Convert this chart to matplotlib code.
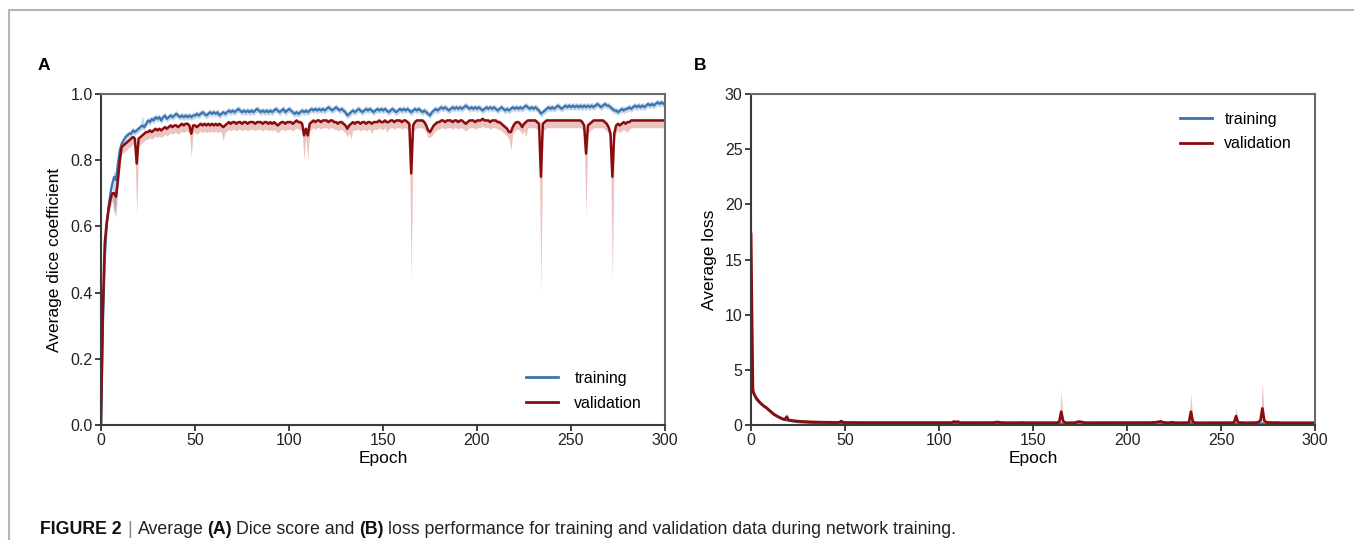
import numpy as np
import matplotlib
matplotlib.use("Agg")
import matplotlib.pyplot as plt
from matplotlib.lines import Line2D

plt.rcParams['font.family'] = ['Liberation Sans', 'DejaVu Sans']

# ---- data, one value per epoch 0..300 ----
epochs = np.arange(301)

dice_train = [
0.00, 0.30, 0.50, 0.60, 0.66, 0.70, 0.73, 0.75, 0.74, 0.79,
0.83, 0.85, 0.86, 0.87, 0.875, 0.88, 0.88, 0.89, 0.885, 0.89,
0.895, 0.90, 0.905, 0.90, 0.91, 0.92, 0.915, 0.925, 0.92, 0.93,
0.925, 0.93, 0.92, 0.93, 0.935, 0.925, 0.93, 0.935, 0.93, 0.935,
0.94, 0.935, 0.93, 0.935, 0.93, 0.935, 0.93, 0.935, 0.93, 0.935,
0.935, 0.94, 0.935, 0.94, 0.945, 0.94, 0.935, 0.94, 0.945, 0.94,
0.945, 0.94, 0.945, 0.935, 0.94, 0.945, 0.94, 0.945, 0.95, 0.945,
0.95, 0.945, 0.95, 0.955, 0.95, 0.945, 0.95, 0.945, 0.95, 0.945,
0.95, 0.945, 0.95, 0.955, 0.95, 0.945, 0.95, 0.945, 0.95, 0.945,
0.95, 0.945, 0.95, 0.955, 0.95, 0.945, 0.95, 0.955, 0.945, 0.95,
0.955, 0.95, 0.945, 0.94, 0.945, 0.94, 0.945, 0.95, 0.945, 0.95,
0.945, 0.95, 0.955, 0.95, 0.955, 0.95, 0.955, 0.95, 0.955, 0.95,
0.955, 0.96, 0.955, 0.95, 0.955, 0.96, 0.955, 0.95, 0.955, 0.95,
0.945, 0.935, 0.94, 0.945, 0.95, 0.945, 0.95, 0.955, 0.95, 0.945,
0.95, 0.955, 0.95, 0.955, 0.95, 0.945, 0.95, 0.955, 0.95, 0.955,
0.95, 0.955, 0.95, 0.945, 0.95, 0.955, 0.95, 0.945, 0.95, 0.955,
0.95, 0.955, 0.95, 0.955, 0.95, 0.945, 0.95, 0.955, 0.95, 0.955,
0.95, 0.945, 0.95, 0.945, 0.94, 0.935, 0.945, 0.95, 0.955, 0.95,
0.955, 0.96, 0.955, 0.96, 0.955, 0.95, 0.955, 0.96, 0.955, 0.96,
0.955, 0.96, 0.955, 0.96, 0.965, 0.96, 0.955, 0.96, 0.955, 0.96,
0.955, 0.96, 0.955, 0.95, 0.955, 0.96, 0.955, 0.96, 0.955, 0.96,
0.955, 0.95, 0.955, 0.96, 0.955, 0.95, 0.955, 0.95, 0.955, 0.96,
0.955, 0.96, 0.955, 0.96, 0.955, 0.96, 0.965, 0.96, 0.955, 0.96,
0.955, 0.96, 0.955, 0.95, 0.94, 0.945, 0.95, 0.955, 0.96, 0.955,
0.96, 0.955, 0.96, 0.965, 0.96, 0.955, 0.96, 0.965, 0.96, 0.965,
0.96, 0.965, 0.96, 0.965, 0.96, 0.965, 0.96, 0.965, 0.96, 0.965,
0.96, 0.965, 0.96, 0.965, 0.97, 0.965, 0.96, 0.965, 0.97, 0.965,
0.965, 0.96, 0.955, 0.95, 0.95, 0.945, 0.95, 0.955, 0.95, 0.955,
0.955, 0.96, 0.955, 0.96, 0.965, 0.96, 0.965, 0.96, 0.965, 0.96,
0.965, 0.97, 0.965, 0.97, 0.965, 0.97, 0.975, 0.97, 0.975, 0.97,
0.975]

dice_val = [
0.00, 0.35, 0.55, 0.61, 0.65, 0.68, 0.70, 0.70, 0.69, 0.74,
0.80, 0.84, 0.845, 0.85, 0.855, 0.86, 0.865, 0.87, 0.865, 0.79,
0.865, 0.87, 0.875, 0.88, 0.885, 0.885, 0.89, 0.885, 0.89, 0.895,
0.89, 0.895, 0.89, 0.895, 0.90, 0.895, 0.90, 0.905, 0.90, 0.905,
0.905, 0.90, 0.905, 0.91, 0.905, 0.91, 0.91, 0.905, 0.88, 0.905,
0.905, 0.90, 0.905, 0.91, 0.905, 0.91, 0.905, 0.91, 0.905, 0.91,
0.905, 0.91, 0.905, 0.91, 0.905, 0.90, 0.905, 0.91, 0.915, 0.91,
0.915, 0.915, 0.91, 0.915, 0.915, 0.91, 0.915, 0.915, 0.91, 0.915,
0.915, 0.915, 0.91, 0.915, 0.915, 0.915, 0.91, 0.915, 0.915, 0.91,
0.915, 0.91, 0.915, 0.91, 0.905, 0.91, 0.915, 0.915, 0.91, 0.915,
0.915, 0.915, 0.91, 0.915, 0.92, 0.915, 0.915, 0.91, 0.875, 0.895,
0.875, 0.91, 0.915, 0.92, 0.915, 0.92, 0.92, 0.915, 0.92, 0.92,
0.92, 0.915, 0.92, 0.92, 0.915, 0.915, 0.91, 0.915, 0.915, 0.91,
0.905, 0.895, 0.905, 0.91, 0.915, 0.91, 0.915, 0.915, 0.91, 0.915,
0.915, 0.91, 0.915, 0.915, 0.91, 0.915, 0.915, 0.915, 0.92, 0.915,
0.915, 0.92, 0.915, 0.915, 0.92, 0.92, 0.915, 0.92, 0.92, 0.92,
0.915, 0.92, 0.92, 0.915, 0.91, 0.76, 0.905, 0.915, 0.92, 0.92,
0.92, 0.92, 0.915, 0.905, 0.89, 0.885, 0.895, 0.905, 0.91, 0.915,
0.915, 0.92, 0.92, 0.915, 0.92, 0.92, 0.92, 0.915, 0.92, 0.92,
0.915, 0.92, 0.92, 0.915, 0.91, 0.915, 0.92, 0.92, 0.92, 0.915,
0.92, 0.92, 0.92, 0.925, 0.92, 0.92, 0.92, 0.915, 0.92, 0.92,
0.92, 0.915, 0.915, 0.91, 0.905, 0.90, 0.895, 0.885, 0.885, 0.90,
0.91, 0.915, 0.915, 0.91, 0.90, 0.91, 0.915, 0.92, 0.92, 0.92,
0.92, 0.92, 0.915, 0.91, 0.75, 0.91, 0.915, 0.92, 0.92, 0.92,
0.92, 0.92, 0.92, 0.92, 0.92, 0.92, 0.92, 0.92, 0.92, 0.92,
0.92, 0.92, 0.92, 0.92, 0.92, 0.92, 0.915, 0.905, 0.82, 0.905,
0.91, 0.915, 0.92, 0.92, 0.92, 0.92, 0.92, 0.92, 0.915, 0.91,
0.90, 0.88, 0.75, 0.88, 0.905, 0.91, 0.905, 0.91, 0.915, 0.91,
0.915, 0.915, 0.92, 0.92, 0.92, 0.92, 0.92, 0.92, 0.92, 0.92,
0.92, 0.92, 0.92, 0.92, 0.92, 0.92, 0.92, 0.92, 0.92, 0.92,
0.92]

loss_train = [
6.5, 3.0, 2.6, 2.3, 2.1, 1.95, 1.8, 1.65, 1.55, 1.4,
1.25, 1.1, 0.95, 0.85, 0.75, 0.65, 0.57, 0.5, 0.45, 0.42,
0.38, 0.35, 0.32, 0.3, 0.28, 0.26, 0.25, 0.24, 0.22, 0.21,
0.2, 0.19, 0.18, 0.17, 0.17, 0.16, 0.16, 0.15, 0.15, 0.14,
0.14, 0.14, 0.13, 0.13, 0.13, 0.12, 0.12, 0.12, 0.13, 0.11,
0.11, 0.11, 0.11, 0.11, 0.1, 0.1, 0.1, 0.1, 0.1, 0.1,
0.1, 0.1, 0.1, 0.09, 0.09, 0.1, 0.09, 0.09, 0.09, 0.09,
0.09, 0.09, 0.09, 0.09, 0.09, 0.09, 0.09, 0.09, 0.08, 0.09,
0.09, 0.08, 0.09, 0.08, 0.08, 0.09, 0.08, 0.08, 0.08, 0.08,
0.08, 0.08, 0.08, 0.08, 0.08, 0.08, 0.08, 0.08, 0.08, 0.08,
0.08, 0.08, 0.08, 0.08, 0.08, 0.08, 0.08, 0.08, 0.1, 0.09,
0.1, 0.08, 0.08, 0.08, 0.08, 0.08, 0.08, 0.08, 0.08, 0.08,
0.08, 0.08, 0.08, 0.08, 0.08, 0.08, 0.08, 0.08, 0.08, 0.08,
0.08, 0.09, 0.08, 0.08, 0.07, 0.07, 0.07, 0.07, 0.07, 0.07,
0.07, 0.07, 0.07, 0.07, 0.07, 0.07, 0.07, 0.07, 0.07, 0.07,
0.07, 0.07, 0.07, 0.07, 0.07, 0.07, 0.07, 0.07, 0.07, 0.07,
0.07, 0.07, 0.07, 0.07, 0.08, 0.14, 0.09, 0.07, 0.07, 0.07,
0.07, 0.07, 0.07, 0.07, 0.08, 0.08, 0.07, 0.07, 0.07, 0.07,
0.07, 0.07, 0.07, 0.07, 0.07, 0.07, 0.07, 0.07, 0.07, 0.07,
0.07, 0.07, 0.07, 0.07, 0.07, 0.07, 0.07, 0.07, 0.07, 0.07,
0.06, 0.06, 0.06, 0.06, 0.06, 0.06, 0.06, 0.06, 0.06, 0.06,
0.06, 0.06, 0.06, 0.06, 0.06, 0.07, 0.07, 0.08, 0.08, 0.07,
0.06, 0.06, 0.06, 0.06, 0.07, 0.06, 0.06, 0.06, 0.06, 0.06,
0.06, 0.06, 0.06, 0.07, 0.18, 0.08, 0.06, 0.06, 0.06, 0.06,
0.06, 0.06, 0.06, 0.06, 0.06, 0.06, 0.06, 0.06, 0.06, 0.06,
0.06, 0.06, 0.06, 0.06, 0.06, 0.06, 0.06, 0.07, 0.1, 0.07,
0.06, 0.06, 0.06, 0.06, 0.06, 0.06, 0.06, 0.06, 0.06, 0.06,
0.07, 0.08, 0.17, 0.08, 0.07, 0.06, 0.06, 0.06, 0.06, 0.06,
0.06, 0.06, 0.05, 0.05, 0.05, 0.05, 0.05, 0.05, 0.05, 0.05,
0.05, 0.05, 0.05, 0.05, 0.05, 0.05, 0.05, 0.05, 0.05, 0.05,
0.05]

loss_val = [
17.3, 3.1, 2.7, 2.4, 2.2, 2.0, 1.85, 1.7, 1.6, 1.45,
1.3, 1.15, 1.0, 0.9, 0.8, 0.7, 0.62, 0.55, 0.5, 0.75,
0.45, 0.42, 0.4, 0.38, 0.36, 0.34, 0.33, 0.32, 0.31, 0.3,
0.29, 0.28, 0.28, 0.27, 0.27, 0.26, 0.26, 0.25, 0.25, 0.25,
0.24, 0.24, 0.24, 0.23, 0.23, 0.23, 0.23, 0.24, 0.35, 0.24,
0.23, 0.22, 0.23, 0.22, 0.22, 0.23, 0.22, 0.22, 0.22, 0.23,
0.22, 0.22, 0.22, 0.21, 0.22, 0.23, 0.22, 0.21, 0.21, 0.22,
0.21, 0.21, 0.22, 0.21, 0.21, 0.21, 0.22, 0.21, 0.21, 0.21,
0.21, 0.21, 0.22, 0.21, 0.21, 0.21, 0.21, 0.22, 0.21, 0.21,
0.21, 0.21, 0.21, 0.22, 0.22, 0.21, 0.21, 0.21, 0.21, 0.21,
0.21, 0.21, 0.22, 0.21, 0.21, 0.21, 0.21, 0.22, 0.32, 0.26,
0.31, 0.22, 0.21, 0.21, 0.21, 0.21, 0.21, 0.21, 0.21, 0.21,
0.21, 0.21, 0.21, 0.21, 0.21, 0.21, 0.22, 0.21, 0.21, 0.22,
0.24, 0.27, 0.24, 0.22, 0.21, 0.21, 0.21, 0.21, 0.21, 0.21,
0.21, 0.21, 0.21, 0.21, 0.23, 0.21, 0.21, 0.21, 0.21, 0.21,
0.21, 0.2, 0.21, 0.21, 0.2, 0.2, 0.21, 0.2, 0.2, 0.2,
0.21, 0.2, 0.2, 0.21, 0.3, 1.2, 0.35, 0.22, 0.2, 0.2,
0.2, 0.2, 0.21, 0.24, 0.3, 0.3, 0.26, 0.23, 0.21, 0.21,
0.21, 0.2, 0.2, 0.21, 0.2, 0.2, 0.2, 0.21, 0.2, 0.2,
0.21, 0.2, 0.2, 0.21, 0.22, 0.21, 0.2, 0.2, 0.2, 0.21,
0.2, 0.2, 0.2, 0.2, 0.2, 0.2, 0.2, 0.21, 0.2, 0.2,
0.2, 0.21, 0.21, 0.22, 0.23, 0.24, 0.26, 0.3, 0.32, 0.25,
0.22, 0.21, 0.21, 0.22, 0.25, 0.22, 0.21, 0.2, 0.2, 0.2,
0.2, 0.2, 0.21, 0.25, 1.2, 0.3, 0.22, 0.2, 0.2, 0.2,
0.2, 0.2, 0.2, 0.21, 0.2, 0.2, 0.2, 0.2, 0.2, 0.2,
0.2, 0.2, 0.2, 0.2, 0.2, 0.2, 0.21, 0.25, 0.8, 0.25,
0.22, 0.21, 0.2, 0.2, 0.2, 0.2, 0.2, 0.2, 0.21, 0.22,
0.26, 0.4, 1.5, 0.4, 0.25, 0.22, 0.23, 0.22, 0.21, 0.22,
0.21, 0.21, 0.2, 0.2, 0.2, 0.2, 0.2, 0.2, 0.2, 0.2,
0.2, 0.2, 0.2, 0.2, 0.2, 0.2, 0.2, 0.2, 0.2, 0.2,
0.2]

# spread of the shaded bands (usual width, plus the epochs where it reaches further)
dice_train_spread = 0.01
dice_train_band_low = {7: 0.64, 8: 0.63, 9: 0.72}
dice_train_band_high = {7: 0.77, 22: 0.935}
dice_val_below = 0.022
dice_val_above = 0.006
dice_val_band_low = {7: 0.64, 19: 0.63, 48: 0.81, 65: 0.86, 108: 0.80, 110: 0.80,
                     131: 0.87, 133: 0.865, 144: 0.88, 152: 0.885, 165: 0.44,
                     175: 0.87, 218: 0.83, 226: 0.87, 234: 0.40, 258: 0.63,
                     272: 0.43, 280: 0.885}
loss_val_above = 0.08
loss_val_below = 0.05
loss_val_band_high = {0: 26.0, 1: 4.0, 19: 1.1, 48: 0.45, 165: 3.2, 234: 2.9,
                      258: 1.6, 272: 3.9}
loss_train_spread = 0.03

assert len(dice_train) == len(dice_val) == len(loss_train) == len(loss_val) == 301

blue = '#3a74b0'
red = '#8a0c0c'


def band(mean, below, above, low_pts=None, high_pts=None):
    mean = np.asarray(mean, dtype=float)
    lo = mean - below
    hi = mean + above
    for k, v in (low_pts or {}).items():
        lo[k] = v
    for k, v in (high_pts or {}).items():
        hi[k] = v
    return np.clip(lo, 0, None), hi


fig = plt.figure(figsize=(13.54, 5.4), dpi=100)

axA = fig.add_axes([101/1354, 1-425/540, 564/1354, 331/540])
axB = fig.add_axes([751/1354, 1-425/540, 564/1354, 331/540])

# panel A
lo, hi = band(dice_train, dice_train_spread, dice_train_spread,
              dice_train_band_low, dice_train_band_high)
axA.fill_between(epochs, lo, hi, color=blue, alpha=0.3, lw=0)
lo, hi = band(dice_val, dice_val_below, dice_val_above, dice_val_band_low)
axA.fill_between(epochs, lo, hi, color='#c0392b', alpha=0.3, lw=0)
axA.plot(epochs, dice_train, color=blue, lw=1.6)
axA.plot(epochs, dice_val, color=red, lw=1.8)
axA.set_ylim(0, 1.0)
axA.set_yticks(np.arange(0, 1.01, 0.2))
axA.set_yticklabels(['0.0', '0.2', '0.4', '0.6', '0.8', '1.0'])
axA.set_ylabel('Average dice coefficient', fontsize=12.5, labelpad=6)

# panel B
lo, hi = band(loss_train, loss_train_spread, loss_train_spread)
axB.fill_between(epochs, lo, hi, color=blue, alpha=0.3, lw=0)
lo, hi = band(loss_val, loss_val_below, loss_val_above, None, loss_val_band_high)
axB.fill_between(epochs, lo, hi, color='#c0392b', alpha=0.3, lw=0)
axB.plot(epochs, loss_train, color=blue, lw=1.6)
axB.plot(epochs, loss_val, color=red, lw=2.0)
axB.set_ylim(0, 30)
axB.set_yticks(np.arange(0, 31, 5))
axB.set_ylabel('Average loss', fontsize=12.5, labelpad=6)

for ax in (axA, axB):
    ax.set_xlim(0, 300)
    ax.set_xticks(np.arange(0, 301, 50))
    ax.set_xlabel('Epoch', fontsize=12.5, labelpad=2)
    ax.tick_params(direction='out', length=4, width=1.2, labelsize=11.5,
                   colors='#222222', pad=2, top=False, right=False)
    for s in ax.spines.values():
        s.set_linewidth(1.5)
        s.set_color('#3a3a3a')
    ax.spines['top'].set_color('#6a6a6a')
    ax.spines['right'].set_color('#6a6a6a')

handles = [Line2D([], [], color=blue, lw=2), Line2D([], [], color=red, lw=2)]
axA.legend(handles, ['training', 'validation'], loc='lower right',
           bbox_to_anchor=(0.985, 0.0), frameon=False, fontsize=11.5,
           handlelength=2.0, handletextpad=1.0, labelspacing=0.6)
axB.legend(handles, ['training', 'validation'], loc='upper right',
           bbox_to_anchor=(0.985, 0.99), frameon=False, fontsize=11.5,
           handlelength=2.0, handletextpad=0.8, labelspacing=0.6)

# panel letters
fig.text(38/1354, 1-66/540, 'A', fontsize=12.5, fontweight='bold', va='center')
fig.text(694/1354, 1-66/540, 'B', fontsize=12.5, fontweight='bold', va='center')

# page border
fig.add_artist(Line2D([9/1354, 9/1354, 1.0], [0, 1-10/540, 1-10/540],
                      transform=fig.transFigure, color='#b4b4b4', lw=1.5))

# caption
parts = [('FIGURE 2', 'bold', '#111111', 0), ('|', 'normal', '#888888', 4),
         ('Average', 'normal', '#222222', 4), ('(A)', 'bold', '#111111', 3),
         ('Dice score and', 'normal', '#222222', 3), ('(B)', 'bold', '#111111', 3),
         ('loss performance for training and validation data during network training.',
          'normal', '#222222', 3)]
t = fig.text(40/1354, 1-538/540, parts[0][0], fontsize=12.8, fontweight=parts[0][1],
             color=parts[0][2], va='bottom')
for s, w, c, gap in parts[1:]:
    t = axA.annotate(s, xy=(1, 0), xycoords=t, xytext=(gap, 0),
                     textcoords='offset points', va='bottom', ha='left',
                     fontsize=12.8, fontweight=w, color=c, annotation_clip=False)

fig.savefig('out.png', dpi=100)
